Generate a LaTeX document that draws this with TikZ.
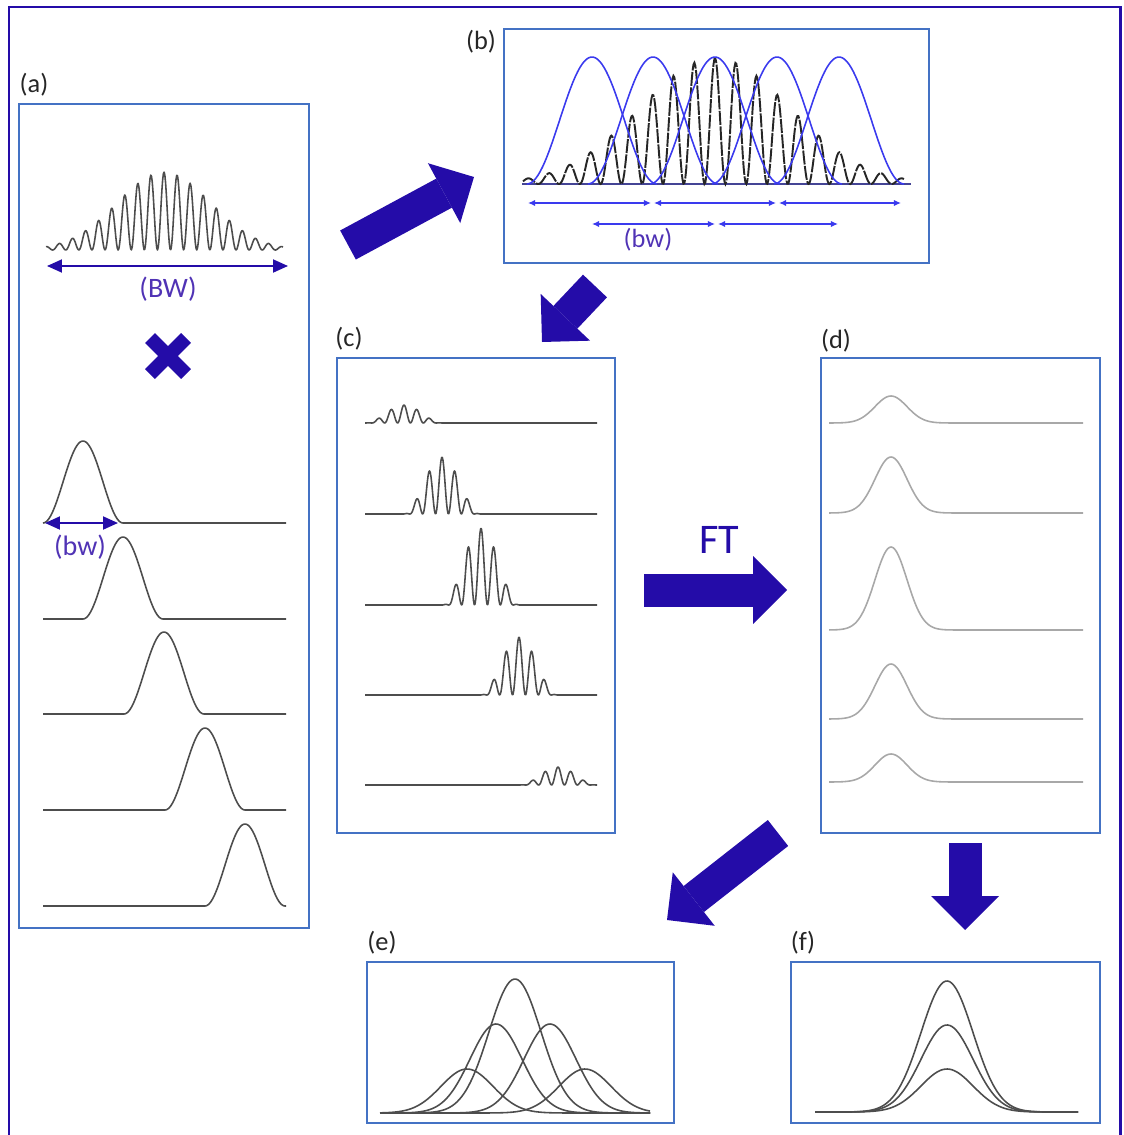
\documentclass[tikz,border=0pt]{standalone}
\usepackage{fontspec}
\setmainfont{Carlito}
\usepackage{tikz}
\usetikzlibrary{arrows.meta,calc}
\definecolor{figindigo}{HTML}{240CA8}
\definecolor{figbox}{HTML}{4472C4}
\definecolor{figblue}{HTML}{3A3AEE}
\definecolor{figpurple}{HTML}{5033B5}
\definecolor{figgrey}{HTML}{4D4D4D}
\definecolor{figlgrey}{HTML}{A8A8A8}

\tikzset{
  panel/.style={draw=figbox, line width=1.4pt, inner sep=0pt},
  tag/.style={text=black!85, font=\fontsize{15}{17}\selectfont},
  bwlabel/.style={text=figpurple, font=\fontsize{16}{18}\selectfont},
  curve/.style={figgrey, line width=0.9pt, line join=round},
  lcurve/.style={figlgrey, line width=0.9pt, line join=round},
  bcurve/.style={figblue, line width=0.9pt, line join=round},
  bigarrow/.style={figindigo, line width=0.66cm,
    -{Triangle[length=0.68cm, width=1.36cm, line width=0pt]}},
  bwarrow/.style={figindigo, line width=1.1pt,
    {Triangle[length=0.3cm, width=0.26cm]}-{Triangle[length=0.3cm, width=0.26cm]}},
  smallarrow/.style={figblue, line width=0.7pt,
    {Latex[length=4pt, width=3.5pt]}-{Latex[length=4pt, width=3.5pt]}}
}

\begin{document}
\begin{tikzpicture}[x=0.02cm, y=-0.02cm]
\useasboundingbox (0,0) rectangle (1123,1135);
\draw[figindigo, line width=1.7pt] (9,7) rectangle (1120,1160);

% panels
\node[panel, minimum width=5.8cm, minimum height=16.48cm] (pa) at (164,516) {};
\node[panel, minimum width=8.5cm, minimum height=4.68cm] (pb) at (716.5,146) {};
\node[panel, minimum width=5.56cm, minimum height=9.5cm] (pc) at (476,595.5) {};
\node[panel, minimum width=5.58cm, minimum height=9.5cm] (pd) at (960.5,595.5) {};
\node[panel, minimum width=6.14cm, minimum height=3.22cm] (pe) at (520.5,1042.5) {};
\node[panel, minimum width=6.18cm, minimum height=3.22cm] (pf) at (945.5,1042.5) {};

\node[tag] (taga) at (34,85) {(a)};
\node[tag] (tagb) at (481,42) {(b)};
\node[tag] (tagc) at (349,339) {(c)};
\node[tag] (tagd) at (836,341) {(d)};
\node[tag] (tage) at (382,943) {(e)};
\node[tag] (tagf) at (803,943) {(f)};

% (a) broadband signal times windows
\draw[curve] plot[domain=46:283, samples=320]
  (\x,{250-78*exp(-0.5*((\x-164)/47)^2)*(1+cos(27.481*(\x-164)))/2});
\coordinate (BWl) at (47,266);
\coordinate (BWr) at (288,266);
\draw[bwarrow] (BWl) -- (BWr);
\node[bwlabel] (BWtext) at (168,289) {(BW)};

\draw[figindigo, line width=0.28cm] (150,338) -- (186,374);
\draw[figindigo, line width=0.28cm] (150,374) -- (186,338);

\foreach \c/\b in {83/523, 123/619, 164/714, 205/810, 245/906}{
  \draw[curve] (43,\b) -- (\c-40,\b)
    plot[domain=\c-40:\c+40, samples=60] (\x,{\b-82*(1+cos(4.5*(\x-\c)))/2})
    -- (286,\b);
}
\coordinate (bwal) at (45,523);
\coordinate (bwar) at (118,523);
\draw[bwarrow] (bwal) -- (bwar);
\node[bwlabel] (bwatext) at (80,547) {(bw)};

% (b) windows over the signal
\draw[line width=0.9pt, figblue!45!figgrey] (522,184) -- (911,184);
\draw[black!85, line width=1.1pt, dash pattern=on 8pt off 0.8pt] plot[domain=523:905, samples=420]
  (\x,{184-126*exp(-0.5*((\x-715)/75)^2)*(1+cos(17.3077*(\x-715)))/2});
\foreach \c in {592,653,715,777,839}{
  \draw[bcurve] plot[domain=\c-65:\c+65, samples=60] (\x,{184-127*(1+cos(2.7692*(\x-\c)))/2});
}
\coordinate (b1) at (528,203);
\coordinate (b2) at (651,203);
\coordinate (b3) at (776,203);
\coordinate (b4) at (901,203);
\coordinate (b5) at (592,224);
\coordinate (b6) at (715,224);
\coordinate (b7) at (838,224);
\draw[smallarrow] (b1) -- (b2);
\draw[smallarrow] ($(b2)+(3,0)$) -- (b3);
\draw[smallarrow] ($(b3)+(3,0)$) -- (b4);
\draw[smallarrow] (b5) -- (b6);
\draw[smallarrow] ($(b6)+(3,0)$) -- (b7);
\node[bwlabel, font=\fontsize{15}{17}\selectfont] (bwbtext) at (648,240) {(bw)};

% (c) windowed pieces
\foreach \b/\c/\A in {423/404/18, 514/442/57, 605/481/77, 695/519/58, 785/558/18}{
  \draw[curve] (365,\b) -- (\c-38.7,\b)
    plot[domain=\c-38.7:\c+38.7, samples=110]
      (\x,{\b-\A*(1+cos(27.907*(\x-\c)))*(1+cos(4.6512*(\x-\c)))/4})
    -- (597,\b);
}

% (d) transformed pieces
\foreach \b/\A in {423/27, 513/56, 630/83, 719/55, 782/28}{
  \draw[lcurve] plot[domain=829:1083, samples=140] (\x,{\b-\A*exp(-0.5*((\x-891)/16)^2)});
}

% (e) and (f)
\foreach \c/\A in {467/44, 496/89, 515/134, 550/89, 585/44}{
  \draw[curve] plot[domain=380:650, samples=120] (\x,{1113-\A*exp(-0.5*((\x-\c)/26)^2)});
}
\foreach \A in {131,87,43}{
  \draw[curve] plot[domain=815:1078, samples=120] (\x,{1112-\A*exp(-0.5*((\x-947)/26)^2)});
}

% big arrows
\coordinate (ab0) at (348,245);
\coordinate (ab1) at (474,177);
\coordinate (bc0) at (595,286);
\coordinate (bc1) at (542,342);
\coordinate (cd0) at (644,590);
\coordinate (cd1) at (787,590);
\coordinate (de0) at (778,833);
\coordinate (de1) at (667,920);
\coordinate (df0) at (965,843);
\coordinate (df1) at (965,930);
\draw[bigarrow] (ab0) -- (ab1);
\draw[bigarrow] (bc0) -- (bc1);
\draw[bigarrow] (cd0) -- (cd1);
\draw[bigarrow] (de0) -- (de1);
\draw[bigarrow] (df0) -- (df1);
\node[text=figindigo, font=\fontsize{24}{26}\selectfont] (ft) at (719,540) {FT};
\end{tikzpicture}
\end{document}
